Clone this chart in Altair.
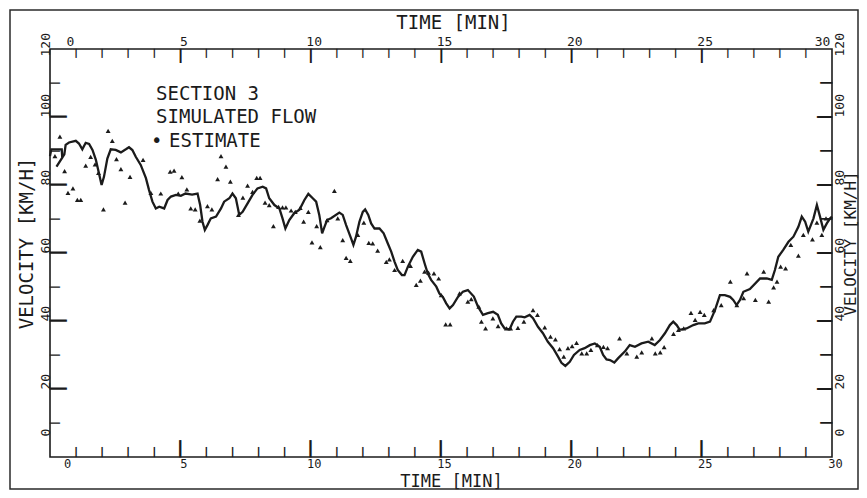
import altair as alt
import pandas as pd

# ---------------- data ----------------
line_t = [0.0, 0.05, 0.45, 0.47, 0.25, 0.55, 0.6, 0.73, 0.99, 1.11, 1.24, 1.37, 1.50, 1.63, 1.76, 1.88,
          1.98, 2.07, 2.20, 2.33, 2.52, 2.72, 2.91, 3.03, 3.16, 3.29, 3.48, 3.68, 3.80, 3.93, 4.06, 4.19,
          4.38, 4.51, 4.64, 4.83, 5.02, 5.2, 5.45, 5.66, 5.76, 5.85, 5.94, 6.04, 6.17, 6.37, 6.56, 6.68,
          6.88, 7.00, 7.13, 7.26, 7.39, 7.58, 7.77, 7.96, 8.16, 8.29, 8.41, 8.61, 8.80, 8.92, 9.03, 9.18,
          9.37, 9.57, 9.76, 9.91, 10.08, 10.21, 10.33, 10.44, 10.53, 10.63, 10.78, 11.10, 11.23, 11.36,
          11.55, 11.64, 11.74, 11.87, 12.00, 12.09, 12.21, 12.32, 12.45, 12.64, 12.80, 12.96, 13.09, 13.22,
          13.34, 13.50, 13.60, 13.73, 13.92, 14.11, 14.24, 14.37, 14.49, 14.62, 14.82, 14.94, 15.07, 15.20,
          15.33, 15.46, 15.65, 15.84, 16.03, 16.26, 16.42, 16.61, 16.80, 17.00, 17.18, 17.31, 17.44, 17.63,
          17.76, 17.89, 18.08, 18.21, 18.40, 18.53, 18.72, 18.91, 19.10, 19.30, 19.49, 19.62, 19.77, 19.94,
          20.10, 20.32, 20.51, 20.71, 20.90, 21.09, 21.22, 21.35, 21.48, 21.65, 21.79, 22.05, 22.24, 22.44,
          22.69, 22.95, 23.20, 23.40, 23.59, 23.78, 23.91, 24.04, 24.16, 24.42, 24.68, 24.87, 25.12, 25.32,
          25.51, 25.70, 25.89, 26.09, 26.21, 26.34, 26.47, 26.60, 26.85, 27.24, 27.50, 27.69, 27.81, 27.94,
          28.13, 28.33, 28.52, 28.71, 28.84, 28.97, 29.09, 29.29, 29.42, 29.54, 29.67, 29.80, 29.93, 30.0]
line_v = [88.5, 90.5, 90.5, 88.0, 85.4, 89.0, 91.8, 92.5, 93.0, 92.2, 90.5, 92.4, 92.1, 90.3, 87.4, 83.4,
          80.0, 82.4, 87.8, 90.5, 90.3, 89.6, 90.5, 91.1, 90.3, 88.3, 85.9, 82.0, 78.5, 75.1, 73.1, 73.6,
          73.1, 75.6, 76.6, 77.1, 76.8, 77.5, 77.2, 77.5, 74.1, 69.2, 66.8, 68.2, 70.2, 70.7, 73.1, 75.1,
          76.1, 77.5, 76.1, 71.2, 72.1, 74.6, 77.1, 79.0, 79.5, 79.0, 76.1, 74.1, 73.1, 70.2, 67.2, 69.7,
          71.7, 72.7, 75.6, 77.4, 76.1, 75.1, 71.2, 65.8, 67.7, 69.7, 70.2, 71.9, 71.2, 68.2,
          64.3, 62.4, 64.8, 69.2, 72.1, 72.8, 71.2, 68.7, 67.2, 67.2, 65.8, 62.8, 60.4, 57.4,
          55.0, 53.5, 53.5, 56.0, 58.9, 60.9, 60.4, 57.0, 54.0, 52.1, 50.1, 48.1, 47.1, 45.2,
          43.7, 44.7, 47.1, 48.6, 49.1, 47.2, 44.2, 41.8, 42.3, 42.7, 41.8, 39.3, 37.8, 37.5,
          39.8, 41.3, 41.3, 41.1, 41.8, 40.8, 38.3, 36.4, 33.9, 32.0, 29.5, 27.7, 26.8, 28.0,
          30.0, 31.5, 32.0, 32.9, 33.4, 32.4, 30.0, 28.7, 28.5, 27.8, 29.0, 31.0, 32.9, 32.4,
          33.4, 33.9, 32.9, 34.4, 36.4, 38.8, 39.8, 38.8, 37.4, 37.8, 38.8, 39.3, 39.3, 39.8,
          43.2, 47.6, 47.6, 47.1, 46.2, 44.7, 46.2, 48.6, 49.4, 52.5, 52.5, 52.1, 55.0, 58.9,
          60.9, 63.3, 64.8, 67.7, 70.7, 69.2, 66.3, 70.2, 74.1, 70.7, 66.8, 68.7, 70.2, 70.7]

est_t = [0.19, 0.38, 0.56, 0.69, 0.88, 1.05, 1.18, 1.37, 1.56, 1.73, 1.86,
         2.05, 2.23, 2.39, 2.55, 2.72, 2.88, 3.07, 3.57, 3.87, 4.25,
         4.61, 4.76, 4.92, 5.06, 5.25, 5.40, 5.57, 5.75, 6.04, 6.21,
         6.43, 6.56, 6.75, 6.92, 7.23, 7.40, 7.58, 7.77, 7.93, 8.06,
         8.25, 8.41, 8.57, 8.77, 8.92, 9.05, 9.25, 9.41, 9.60, 9.73,
         9.91, 10.05, 10.23, 10.37, 10.63, 10.91, 11.04, 11.23, 11.36, 11.52,
         11.81, 12.04, 12.23, 12.38, 12.57, 12.90, 13.02, 13.22, 13.53, 13.83,
         14.05, 14.21, 14.37, 14.52, 14.73, 14.91, 15.01, 15.18, 15.35, 15.71,
         16.03, 16.16, 16.45, 16.55, 16.71, 16.99, 17.19, 17.51, 17.67, 17.95,
         18.18, 18.53, 18.70, 18.98, 19.20, 19.39, 19.55, 19.71, 19.87, 20.03,
         20.20, 20.40, 20.59, 20.75, 21.00, 21.23, 21.39, 21.85, 22.13, 22.51,
         22.70, 23.09, 23.22, 23.41, 23.56, 23.92, 24.11, 24.31, 24.59, 24.75,
         24.94, 25.10, 25.46, 25.75, 26.10, 26.35, 26.61, 26.74, 27.06, 27.38,
         27.57, 27.76, 27.89, 28.03, 28.22, 28.42, 28.71, 28.90, 29.25, 29.42,
         29.61, 29.77]
est_v = [88.5, 94.2, 84.1, 77.7, 79.0, 75.6, 75.6, 85.7, 88.3, 86.1, 83.6,
         72.8, 95.9, 93.0, 87.6, 84.7, 74.8, 82.4, 87.4, 77.7, 77.5,
         83.9, 84.2, 77.5, 82.3, 78.7, 73.1, 72.8, 69.5, 73.8, 72.8,
         81.7, 88.5, 85.4, 81.0, 71.2, 76.3, 79.8, 78.0, 82.1, 82.1,
         74.8, 74.1, 67.9, 73.6, 73.4, 73.4, 72.5, 72.1, 73.3, 69.2,
         72.1, 63.1, 67.9, 61.7, 69.7, 78.3, 70.2, 63.8, 58.6, 57.7,
         65.3, 68.9, 63.0, 62.8, 60.7, 57.4, 58.1, 55.0, 57.7, 56.2,
         50.6, 51.9, 54.5, 54.2, 54.0, 52.5, 47.6, 39.0, 39.0, 48.1,
         45.7, 46.4, 44.2, 39.8, 37.8, 40.8, 38.5, 37.8, 37.8, 38.0,
         39.8, 43.2, 41.8, 38.1, 35.4, 34.6, 31.7, 29.5, 32.0, 32.6,
         33.6, 30.5, 30.5, 31.5, 32.9, 32.4, 32.0, 34.9, 30.5, 29.5,
         30.8, 34.9, 30.5, 30.8, 32.3, 36.2, 37.4, 37.8, 42.4, 40.3,
         42.7, 41.8, 43.2, 44.7, 51.6, 44.7, 46.7, 54.0, 46.2, 54.5,
         45.7, 49.9, 51.6, 56.0, 55.5, 62.4, 59.2, 65.3, 64.0, 68.9,
         65.3, 70.2]

x_major = [0, 5, 10, 15, 20, 25, 30]
x_minor = list(range(0, 31))
y_major = [0, 20, 40, 60, 80, 100, 120]
y_minor = list(range(0, 121, 10))
x_title = "TIME [MIN]"
y_title = "VELOCITY [KM/H]"

legend_text = ["SECTION 3", "SIMULATED FLOW", "\u2022", "ESTIMATE"]
legend_t = [4.07, 4.07, 3.87, 4.57]
legend_v = [105.0, 98.2, 91.2, 91.2]

# ---------------- build ----------------
FONT = "DejaVu Sans Mono"
INK = "#1b1b1b"
W, H = 782, 408
X0, X1, Y0, Y1 = 0, 30, 0, 120
CELL = 1.164          # ascent + descent of the mono font, in em
ASC, DESC = 0.928, 0.236
BAR = "\u2503"         # heavy vertical stroke glyph used for the inward tick marks

line_df = pd.DataFrame({"t": line_t, "v": line_v, "i": list(range(len(line_t)))})
est_df = pd.DataFrame({"t": est_t, "v": est_v})
leg_df = pd.DataFrame({"lt": legend_t, "lv": legend_v, "label": legend_text})
frame_df = pd.DataFrame({"k": [0]})

xs = alt.Scale(domain=[X0, X1], nice=False, zero=False)
ys = alt.Scale(domain=[Y0, Y1], nice=False, zero=False)


def cond(pairs, default):
    return {"condition": [{"test": f"datum.value == {v}", "value": o} for v, o in pairs],
            "value": default}


lab = dict(labelFont=FONT, labelColor=INK, labelOverlap=False, labelFlush=False)
ttl = dict(titleFont=FONT, titleFontWeight="normal", titleColor=INK)
bare = dict(domain=False, grid=False, ticks=False)

bottom_axis = alt.Axis(orient="bottom", values=x_major, labelFontSize=12, labelPadding=1,
                       labelBaseline="top", labelAlign="center", labelAngle=0,
                       labelOffset=cond([(0, 17)], 3), format="d",
                       title=x_title, titleFontSize=17, titleX=401, titleY=29, titleAlign="center",
                       titleBaseline="alphabetic", titleAngle=0, **bare, **lab, **ttl)
top_axis = alt.Axis(orient="top", values=x_major, labelFontSize=13, labelPadding=4,
                    labelBaseline="alphabetic", labelAlign="center", labelAngle=0,
                    labelOffset=cond([(0, 20), (30, -10)], 3), format="d",
                    title=x_title, titleFontSize=19, titleX=403, titleY=-21, titleAlign="center",
                    titleBaseline="alphabetic", titleAngle=0, **bare, **lab, **ttl)
left_axis = alt.Axis(orient="left", values=y_major, labelFontSize=13, labelPadding=1,
                     labelAngle=270, labelAlign="left", labelBaseline="alphabetic",
                     labelOffset=cond([(0, -21), (120, 7)], 0), format="d",
                     title=y_title, titleFontSize=19, titleX=-18, titleY=194, titleAngle=270,
                     titleAlign="center", titleBaseline="alphabetic", **bare, **lab, **ttl)
right_axis = alt.Axis(orient="right", values=y_major, labelFontSize=13, labelPadding=1,
                      labelAngle=270, labelAlign="left", labelBaseline="top",
                      labelOffset=cond([(0, -21), (120, 7)], 0), format="d",
                      title=y_title, titleFontSize=16, titleX=10, titleY=194, titleAngle=270,
                      titleAlign="center", titleBaseline="top", **bare, **lab, **ttl)

line = alt.Chart(line_df).mark_line(color=INK, strokeWidth=2.3).encode(
    x=alt.X("t:Q", scale=xs, axis=bottom_axis),
    y=alt.Y("v:Q", scale=ys, axis=left_axis),
    order=alt.Order("i:Q"),
)

points = alt.Chart(est_df).mark_point(shape="triangle-up", filled=True, size=24,
                                      color=INK, opacity=1).encode(
    x=alt.X("t:Q", scale=xs, axis=top_axis),
    y=alt.Y("v:Q", scale=ys, axis=right_axis),
)

legend_txt = alt.Chart(leg_df).mark_text(font=FONT, fontSize=19, color=INK,
                                         align="left", baseline="alphabetic").encode(
    x=alt.X("lt:Q", scale=xs, axis=None),
    y=alt.Y("lv:Q", scale=ys, axis=None),
    text="label:N",
)


# ---- inward tick marks: stroke glyphs placed along each edge through the scales ----
def inner(vals, ends, skip=()):
    return [v for v in vals if v not in ends and v not in skip]


def tick_layer(vals, side, length):
    fs = length / CELL
    if side in ("bottom", "top"):
        df = pd.DataFrame({"tk": vals, "g": [BAR] * len(vals)})
        base = H - DESC * fs if side == "bottom" else ASC * fs
        return alt.Chart(df).mark_text(font=FONT, fontSize=fs, color=INK, align="center",
                                       baseline="alphabetic").encode(
            x=alt.X("tk:Q", scale=xs, axis=None), y=alt.value(base), text="g:N")
    df = pd.DataFrame({"tk": vals, "g": [BAR] * len(vals)})
    if side == "left":
        anchor, ang = DESC * fs, 90
    else:
        anchor, ang = W - DESC * fs, 270
    return alt.Chart(df).mark_text(font=FONT, fontSize=fs, color=INK, align="center",
                                   baseline="alphabetic", angle=ang).encode(
        y=alt.Y("tk:Q", scale=ys, axis=None), x=alt.value(anchor), text="g:N")


xe, ye = (X0, X1), (Y0, Y1)
tick_layers = [
    tick_layer(inner(x_minor, xe, x_major), "bottom", 10),
    tick_layer(inner(x_major, xe), "bottom", 17),
    tick_layer(inner(x_minor, xe, x_major), "top", 9),
    tick_layer(inner(x_major, xe), "top", 14),
    tick_layer(inner(y_minor, ye, y_major), "left", 10),
    tick_layer(inner(y_major, ye), "left", 17),
    tick_layer(inner(y_minor, ye, y_major), "right", 12),
    tick_layer(inner(y_major, ye), "right", 15),
]

outer = alt.Chart(frame_df).mark_rect(fillOpacity=0, stroke="#2a2a2a", strokeWidth=1.5).encode(
    x=alt.value(-40), x2=alt.value(808), y=alt.value(-39), y2=alt.value(440),
)

chart = alt.layer(outer, line, points, legend_txt, *tick_layers).resolve_axis(
    x="independent", y="independent"
).properties(
    width=W, height=H,
    autosize=alt.AutoSizeParams(type="none"),
    padding={"left": 42, "top": 41, "right": 27, "bottom": 33},
    background="white",
).configure_view(stroke=INK, strokeWidth=1.6)

chart.save("out.html", embed_options={"renderer": "svg", "actions": False})
